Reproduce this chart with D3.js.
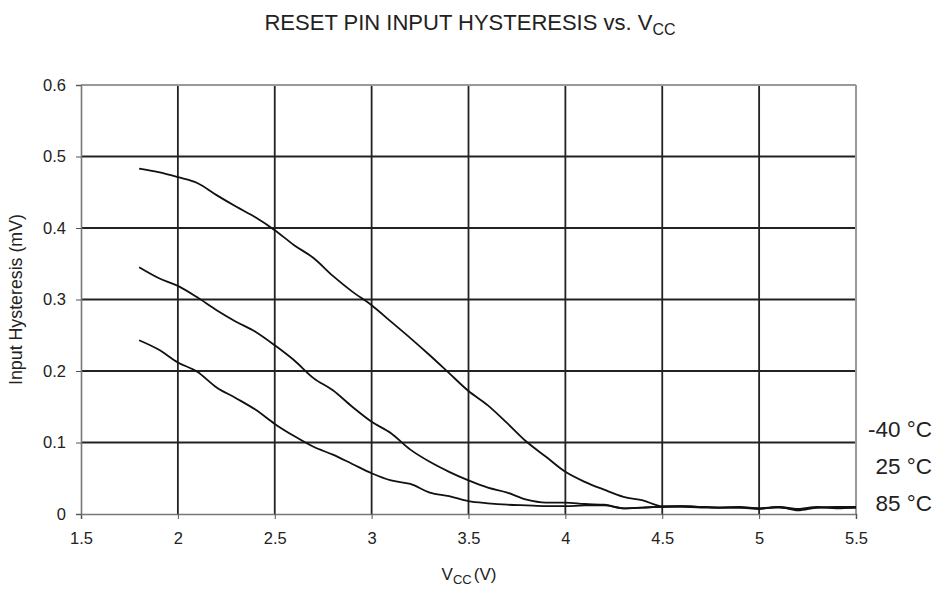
<!DOCTYPE html>
<html>
<head>
<meta charset="utf-8">
<script src="https://cdn.jsdelivr.net/npm/d3@7"></script>
<style>
  body { margin: 0; background: #fff; }
  text { font-family: "Liberation Sans", Arial, sans-serif; fill: #222; }
</style>
</head>
<body>
<div id="chart"></div>
<script>
// supply voltage samples (V)
var vcc = [1.8, 1.9, 2.0, 2.1, 2.2, 2.3, 2.4, 2.5, 2.6, 2.7, 2.8, 2.9, 3.0, 3.1, 3.2, 3.3, 3.4, 3.5, 3.6, 3.7,
           3.8, 3.9, 4.0, 4.1, 4.2, 4.3, 4.4, 4.5, 4.6, 4.7, 4.8, 4.9, 5.0, 5.1, 5.2, 5.3, 5.4, 5.5];

// input hysteresis
var tempM40 = [0.483, 0.478, 0.471, 0.463, 0.446, 0.430, 0.415, 0.397, 0.376, 0.358, 0.333, 0.311, 0.292, 0.269, 0.246, 0.222, 0.197, 0.172, 0.152, 0.127,
               0.101, 0.080, 0.059, 0.045, 0.034, 0.024, 0.019, 0.011, 0.011, 0.010, 0.009, 0.009, 0.008, 0.010, 0.007, 0.009, 0.009, 0.009];
var temp25 = [0.345, 0.330, 0.319, 0.303, 0.285, 0.269, 0.255, 0.236, 0.215, 0.190, 0.173, 0.150, 0.129, 0.113, 0.090, 0.073, 0.059, 0.047, 0.037, 0.030,
              0.020, 0.016, 0.016, 0.014, 0.013, 0.008, 0.009, 0.010, 0.010, 0.009, 0.009, 0.009, 0.007, 0.010, 0.005, 0.009, 0.010, 0.010];
var temp85 = [0.243, 0.230, 0.212, 0.199, 0.177, 0.162, 0.146, 0.126, 0.109, 0.094, 0.083, 0.070, 0.057, 0.047, 0.042, 0.030, 0.025, 0.018, 0.015, 0.013,
              0.012, 0.011, 0.011, 0.012, 0.012, 0.008, 0.009, 0.010, 0.011, 0.010, 0.009, 0.010, 0.008, 0.009, 0.007, 0.010, 0.008, 0.009];

var seriesNames = ["-40 °C", "25 °C", "85 °C"];
var xTicks = [1.5, 2, 2.5, 3, 3.5, 4, 4.5, 5, 5.5];
var yTicks = [0, 0.1, 0.2, 0.3, 0.4, 0.5, 0.6];

var width = 942, height = 590;
var margin = {top: 85, right: 86, bottom: 76, left: 81};

var svg = d3.select("#chart").append("svg")
    .attr("width", width)
    .attr("height", height);

var x = d3.scaleLinear().domain([1.5, 5.5]).range([margin.left, width - margin.right]);
var y = d3.scaleLinear().domain([0, 0.6]).range([height - margin.bottom, margin.top]);

// grid
svg.append("g").selectAll("line")
    .data(xTicks.slice(1, -1))
    .enter().append("line")
    .attr("x1", d => x(d)).attr("x2", d => x(d))
    .attr("y1", y(0)).attr("y2", y(0.6))
    .attr("stroke", "#222").attr("stroke-width", 1.8);

svg.append("g").selectAll("line")
    .data(yTicks.slice(1, -1))
    .enter().append("line")
    .attr("x1", x(1.5)).attr("x2", x(5.5))
    .attr("y1", d => y(d)).attr("y2", d => y(d))
    .attr("stroke", "#222").attr("stroke-width", 1.8);

// frame top/right
svg.append("line")
    .attr("x1", x(1.5)).attr("x2", x(5.5)).attr("y1", y(0.6)).attr("y2", y(0.6))
    .attr("stroke", "#999").attr("stroke-width", 2);
svg.append("line")
    .attr("x1", x(5.5)).attr("x2", x(5.5)).attr("y1", y(0.6)).attr("y2", y(0))
    .attr("stroke", "#999").attr("stroke-width", 2);

// axes
var xAxis = svg.append("g")
    .attr("transform", "translate(0," + y(0) + ")")
    .call(d3.axisBottom(x).tickValues(xTicks).tickSize(5).tickPadding(13).tickFormat(d3.format("")));
var yAxis = svg.append("g")
    .attr("transform", "translate(" + x(1.5) + ",0)")
    .call(d3.axisLeft(y).tickValues(yTicks).tickSize(5).tickPadding(10).tickFormat(d3.format("")));

[xAxis, yAxis].forEach(function (a) {
    a.select(".domain").attr("stroke", "#777").attr("stroke-width", 1.6);
    a.selectAll(".tick line").attr("stroke", "#555");
    a.selectAll(".tick text").style("font-size", "16.5px").attr("fill", "#222");
});

// curves
var line = d3.line()
    .x(function (d, i) { return x(vcc[i]); })
    .y(function (d) { return y(d); })
    .curve(d3.curveMonotoneX);

[tempM40, temp25, temp85].forEach(function (s) {
    svg.append("path")
        .attr("d", line(s))
        .attr("fill", "none")
        .attr("stroke", "#111")
        .attr("stroke-width", 1.8);
});

// series labels
svg.append("g").selectAll("text")
    .data(seriesNames)
    .enter().append("text")
    .attr("x", 932)
    .attr("y", function (d, i) { return 437 + i * 37; })
    .attr("text-anchor", "end")
    .style("font-size", "22.5px")
    .text(d => d);

// title
var title = svg.append("text")
    .attr("x", 470).attr("y", 30)
    .attr("text-anchor", "middle")
    .style("font-size", "22px");
title.append("tspan").text("RESET PIN INPUT HYSTERESIS vs. V");
title.append("tspan").attr("dy", 5).style("font-size", "16px").text("CC");

// axis titles
var xt = svg.append("text")
    .attr("x", 469).attr("y", 580)
    .attr("text-anchor", "middle")
    .style("font-size", "17px");
xt.append("tspan").text("V");
xt.append("tspan").attr("dy", 4).style("font-size", "13px").text("CC");
xt.append("tspan").attr("dy", -4).attr("dx", 2).text("(V)");

svg.append("text")
    .attr("transform", "translate(22," + y(0.3) + ") rotate(-90)")
    .attr("text-anchor", "middle")
    .style("font-size", "17.8px")
    .text("Input Hysteresis (mV)");
</script>
</body>
</html>
